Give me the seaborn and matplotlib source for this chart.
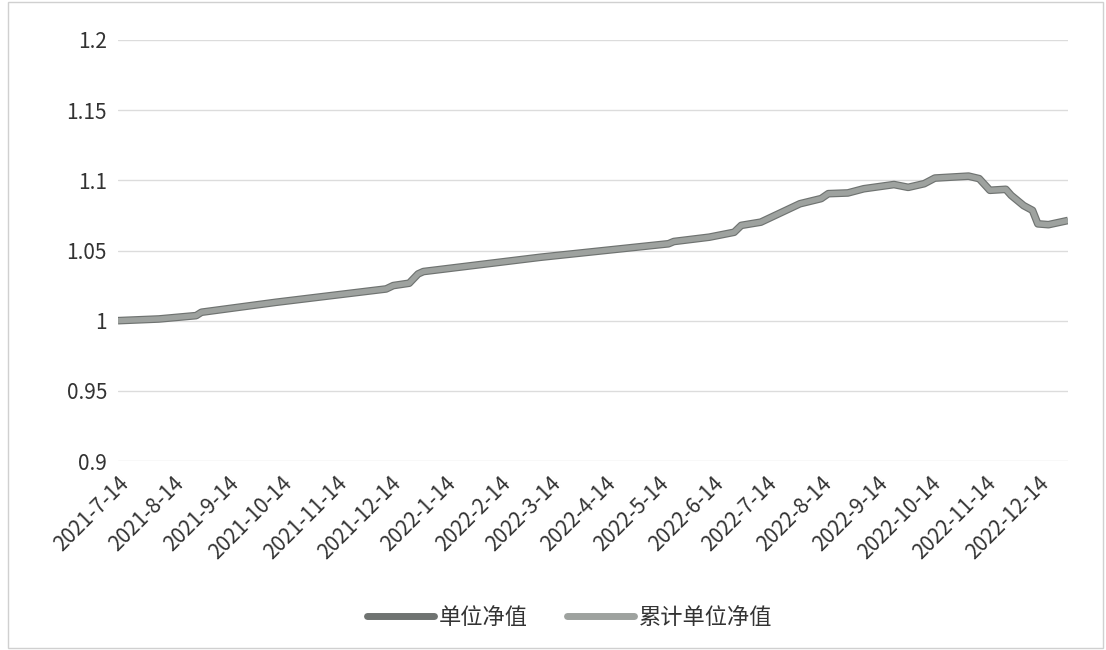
import matplotlib
matplotlib.use("Agg")
import matplotlib.pyplot as plt
import matplotlib.patches as mpatches
import seaborn as sns
import pandas as pd

# ---- data ----
dates = ["2021-07-14", "2021-08-06", "2021-08-27", "2021-08-30", "2021-10-11",
         "2021-12-12", "2021-12-16", "2021-12-25", "2021-12-30", "2022-01-02",
         "2022-03-09", "2022-05-20", "2022-05-23", "2022-06-12", "2022-06-26",
         "2022-06-30", "2022-07-11", "2022-08-02", "2022-08-14", "2022-08-18",
         "2022-08-29", "2022-09-07", "2022-09-24", "2022-10-02", "2022-10-11",
         "2022-10-17", "2022-11-05", "2022-11-11", "2022-11-17", "2022-11-26",
         "2022-11-29", "2022-12-06", "2022-12-11", "2022-12-14", "2022-12-20",
         "2022-12-31"]
unit_nav = [1.0000, 1.0012, 1.0036, 1.0060, 1.0131,
            1.0226, 1.0250, 1.0267, 1.0333, 1.0350,
            1.0452, 1.0548, 1.0564, 1.0595, 1.0630,
            1.0679, 1.0702, 1.0833, 1.0870, 1.0905,
            1.0910, 1.0940, 1.0970, 1.0950, 1.0976,
            1.1016, 1.1030, 1.1012, 1.0929, 1.0936,
            1.0893, 1.0820, 1.0786, 1.0690, 1.0684,
            1.0714]
cum_nav = [1.0000, 1.0012, 1.0036, 1.0060, 1.0131,
           1.0226, 1.0250, 1.0267, 1.0333, 1.0350,
           1.0452, 1.0548, 1.0564, 1.0595, 1.0630,
           1.0679, 1.0702, 1.0833, 1.0870, 1.0905,
           1.0910, 1.0940, 1.0970, 1.0950, 1.0976,
           1.1016, 1.1030, 1.1012, 1.0929, 1.0936,
           1.0893, 1.0820, 1.0786, 1.0690, 1.0684,
           1.0714]
series_names = ["单位净值", "累计单位净值"]
tick_labels = ["2021-7-14", "2021-8-14", "2021-9-14", "2021-10-14", "2021-11-14",
               "2021-12-14", "2022-1-14", "2022-2-14", "2022-3-14", "2022-4-14",
               "2022-5-14", "2022-6-14", "2022-7-14", "2022-8-14", "2022-9-14",
               "2022-10-14", "2022-11-14", "2022-12-14"]
y_ticks = [0.9, 0.95, 1.0, 1.05, 1.1, 1.15, 1.2]
y_tick_labels = ["0.9", "0.95", "1", "1.05", "1.1", "1.15", "1.2"]

# ---- build long table ----
df = pd.DataFrame({
    "date": pd.to_datetime(dates + dates),
    "value": unit_nav + cum_nav,
    "series": [series_names[0]] * len(dates) + [series_names[1]] * len(dates),
})

sns.set_theme(style="white")
plt.rcParams["font.family"] = ["Noto Sans CJK SC", "DejaVu Sans"]

fig = plt.figure(figsize=(11.06, 6.5), dpi=100)
fig.patch.set_facecolor("white")
ax = fig.add_axes([118 / 1106, 1 - 461 / 650, (1068 - 118) / 1106, (461 - 40) / 650])

colors = {series_names[0]: "#6f7371", series_names[1]: "#9ea29f"}
widths = {series_names[0]: 5.5, series_names[1]: 3.8}
for name in series_names:
    sub = df[df["series"] == name]
    sns.lineplot(data=sub, x="date", y="value", ax=ax, color=colors[name],
                 linewidth=widths[name], label=name, legend=False,
                 solid_joinstyle="round", solid_capstyle="butt")

ax.set_ylim(0.9, 1.2)
ax.set_xlim(pd.Timestamp("2021-07-14"), pd.Timestamp("2022-12-31"))
ax.set_yticks(y_ticks)
ax.set_yticklabels(y_tick_labels, fontsize=15, color="#333333")
tick_pos = pd.to_datetime(tick_labels, format="%Y-%m-%d")
ax.set_xticks(tick_pos)
ax.set_xticklabels(tick_labels, rotation=45, ha="right", rotation_mode="anchor",
                   fontsize=15, color="#333333")
ax.tick_params(axis="both", length=0, pad=8)
ax.set_xlabel("")
ax.set_ylabel("")
ax.grid(axis="y", color="#dcdcdc", linewidth=1.0)
ax.grid(axis="x", visible=False)
for s in ["top", "right", "left", "bottom"]:
    ax.spines[s].set_visible(False)
ax.set_facecolor("white")

handles = [plt.Line2D([0], [0], color=colors[n], linewidth=5) for n in series_names]
fig.legend(handles, series_names, loc="center", bbox_to_anchor=(0.515, 0.05),
           ncol=2, frameon=False, fontsize=16, handlelength=3.0,
           handletextpad=0.2, columnspacing=1.8, labelcolor="#333333")

# chart-area border
fig.patches.append(mpatches.Rectangle((0.007, 0.003), 0.99, 0.994, transform=fig.transFigure,
                                      fill=False, edgecolor="#d0d0d0", linewidth=1.0))

fig.savefig("out.png", dpi=100, facecolor="white")
